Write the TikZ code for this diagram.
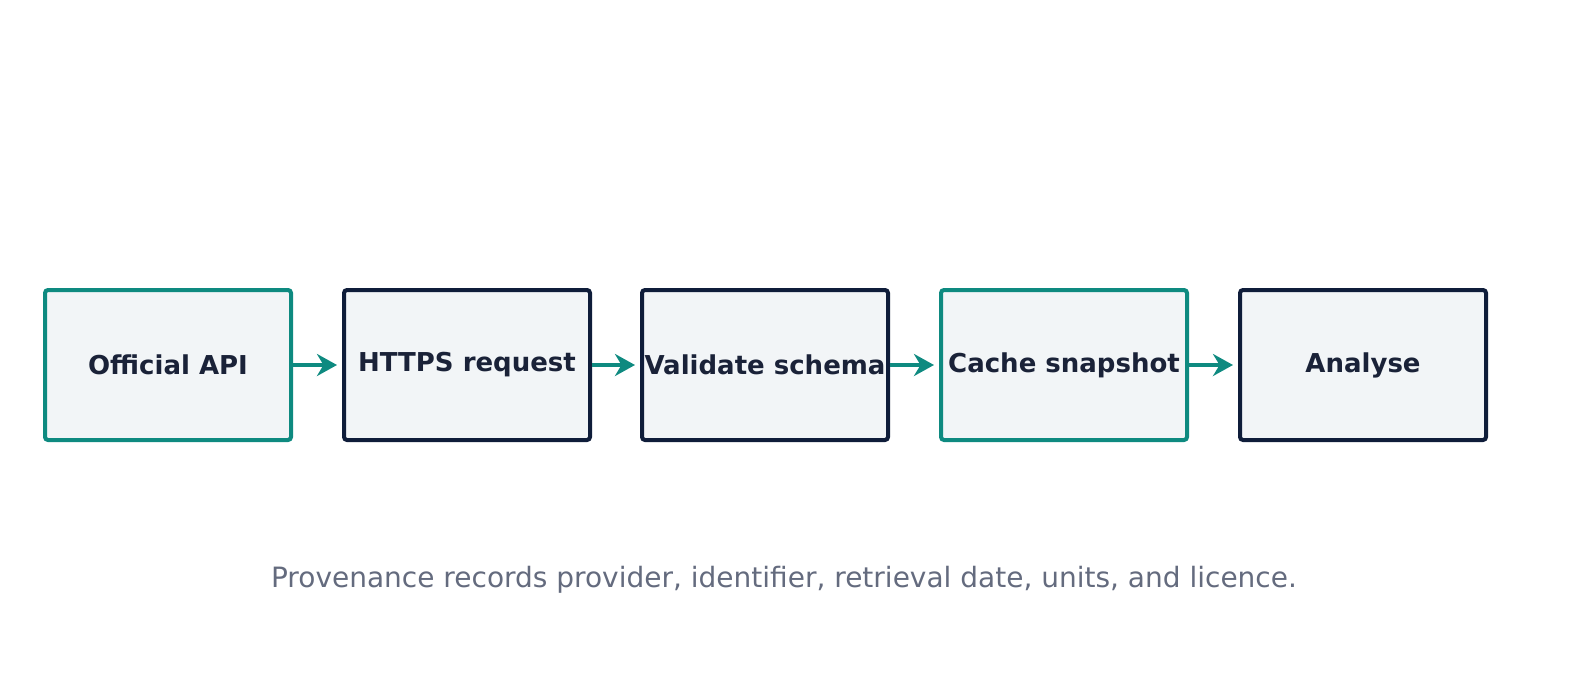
\documentclass[tikz,border=0pt]{standalone}
\usepackage{fontspec}
\setmainfont{DejaVu Sans}
\usetikzlibrary{arrows.meta}
\definecolor{teal1}{HTML}{0E8A80}
\definecolor{navy}{HTML}{0F1D3A}
\definecolor{boxfill}{HTML}{F2F5F7}
\definecolor{txt}{HTML}{1A2238}
\definecolor{cap}{HTML}{646B7E}
\begin{document}
\begin{tikzpicture}[x=1pt,y=-1pt,
  box/.style={draw, line width=4pt, fill=boxfill, rounded corners=3pt, minimum width=246pt, minimum height=150pt, inner sep=0pt, text=txt, font=\bfseries\fontsize{26}{30}\selectfont},
  tealbox/.style={box, draw=teal1},
  navybox/.style={box, draw=navy},
  arr/.style={draw=teal1, line width=4pt, -{Stealth[length=20pt,width=22pt]}, shorten >=5pt}]
\useasboundingbox (0,0) rectangle (1578,687);
\node[tealbox] (a) at (168,365) {Official API};
\node[navybox] (b) at (467,365) {HTTPS request};
\node[navybox] (c) at (765,365) {Validate schema};
\node[tealbox] (d) at (1064,365) {Cache snapshot};
\node[navybox] (e) at (1363,365) {Analyse};
\draw[arr] (a) -- (b);
\draw[arr] (b) -- (c);
\draw[arr] (c) -- (d);
\draw[arr] (d) -- (e);
\node[text=cap, font=\fontsize{28}{32}\selectfont] (t) at (784,580) {Provenance records provider, identifier, retrieval date, units, and licence.};
\end{tikzpicture}
\end{document}
